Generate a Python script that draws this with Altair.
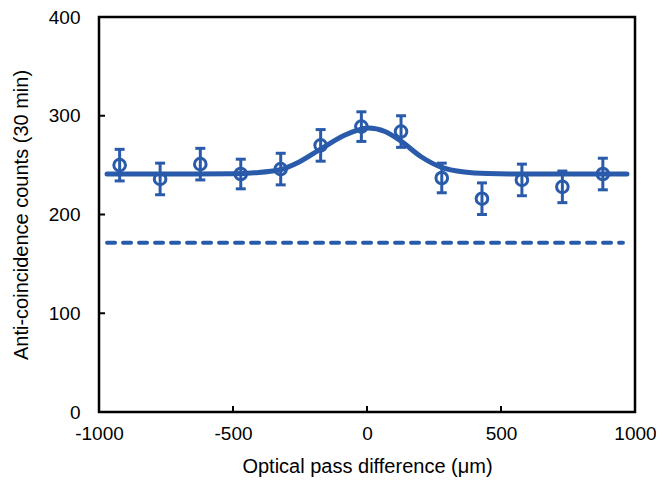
import altair as alt
import pandas as pd

# measured points
x_pts = [-923, -772, -622, -471, -322, -173, -21, 127, 279, 429, 578, 729, 880]
y_pts = [250, 236, 251, 241, 246, 270, 289, 284, 237, 216, 235, 228, 241]
y_err = [16, 16, 16, 15, 16, 16, 15, 16, 15, 16, 16, 16, 16]

# fitted curve
x_fit = [-970, -800, -650, -500, -420, -329, -255, -169, -82, -40, 5, 67, 128, 202, 276, 363, 450, 600, 800, 970]
y_fit = [241, 241, 241, 241.3, 242.3, 245, 253, 267, 280.5, 285, 287.5, 284, 274, 258.5, 248, 243, 241.5, 241, 241, 241]

# dashed background level
x_bg = [-970, 955]
y_bg = [171.5, 171.5]

x_ticks = [-1000, -500, 0, 500, 1000]
y_ticks = [0, 100, 200, 300, 400]
x_inner_ticks = [-500, 0, 500]
y_inner_ticks = [100, 200, 300]

BLUE = "#2A5BAA"
FONT = "Liberation Sans"

pts = pd.DataFrame({"x": x_pts, "y": y_pts, "err": y_err})
pts["lo"] = pts["y"] - pts["err"]
pts["hi"] = pts["y"] + pts["err"]
fit = pd.DataFrame({"x": x_fit, "y": y_fit})
bg = pd.DataFrame({"x": x_bg, "y": y_bg})
xt = pd.DataFrame({"x": x_inner_ticks})
yt = pd.DataFrame({"y": y_inner_ticks})

xscale = alt.Scale(domain=[-1000, 1000], nice=False, zero=False)
yscale = alt.Scale(domain=[0, 400], nice=False, zero=False)

xaxis = alt.Axis(
    values=x_ticks, labelExpr="'' + datum.value", tickSize=0, domain=False, grid=False,
    labelFlush=False, labelOverlap=False,
    labelFontSize=19, labelFont=FONT, labelColor="black", labelPadding=12,
    title="Optical pass difference (\u03bcm)", titleFontSize=20, titleFont=FONT,
    titleFontWeight="normal", titleColor="black", titlePadding=13,
)
yaxis = alt.Axis(
    values=y_ticks, labelExpr="'' + datum.value", tickSize=0, domain=False, grid=False,
    labelFlush=False, labelOverlap=False,
    labelFontSize=19, labelFont=FONT, labelColor="black", labelPadding=19,
    title="Anti-coincidence counts (30 min)", titleFontSize=20, titleFont=FONT,
    titleFontWeight="normal", titleColor="black", titlePadding=17,
)

X = alt.X("x:Q", scale=xscale, axis=xaxis)
Y = alt.Y("y:Q", scale=yscale, axis=yaxis)

dashed = alt.Chart(bg).mark_line(
    color=BLUE, strokeWidth=4, strokeDash=[8, 8], strokeCap="round"
).encode(x=X, y=Y)

curve = alt.Chart(fit).mark_line(
    color=BLUE, strokeWidth=5, strokeCap="round", interpolate="monotone"
).encode(x=X, y=Y)

bars = alt.Chart(pts).mark_rule(color=BLUE, strokeWidth=3, opacity=1).encode(
    x=alt.X("x:Q", scale=xscale), y=alt.Y("lo:Q", scale=yscale), y2="hi:Q"
)
cap_hi = alt.Chart(pts).mark_tick(color=BLUE, orient="horizontal", size=10, thickness=3, opacity=1).encode(
    x=alt.X("x:Q", scale=xscale), y=alt.Y("hi:Q", scale=yscale)
)
cap_lo = alt.Chart(pts).mark_tick(color=BLUE, orient="horizontal", size=10, thickness=3, opacity=1).encode(
    x=alt.X("x:Q", scale=xscale), y=alt.Y("lo:Q", scale=yscale)
)
points = alt.Chart(pts).mark_point(
    shape="circle", filled=False, color=BLUE, size=135, strokeWidth=3, opacity=1
).encode(x=X, y=Y)

xtick_marks = alt.Chart(xt).mark_rule(color="black", strokeWidth=2).encode(
    x=alt.X("x:Q", scale=xscale), y=alt.value(395), y2=alt.value(389)
)
ytick_marks = alt.Chart(yt).mark_rule(color="black", strokeWidth=2).encode(
    y=alt.Y("y:Q", scale=yscale), x=alt.value(0), x2=alt.value(6)
)

chart = alt.layer(
    dashed, curve, bars, cap_hi, cap_lo, points, xtick_marks, ytick_marks
).properties(
    width=536, height=395,
    autosize=alt.AutoSizeParams(type="none"),
    padding={"left": 91, "top": 9, "right": 21, "bottom": 67},
    background="white",
).configure_view(
    stroke="black", strokeWidth=2.5
)

chart.save("out.html", embed_options={"renderer": "svg", "actions": False})
